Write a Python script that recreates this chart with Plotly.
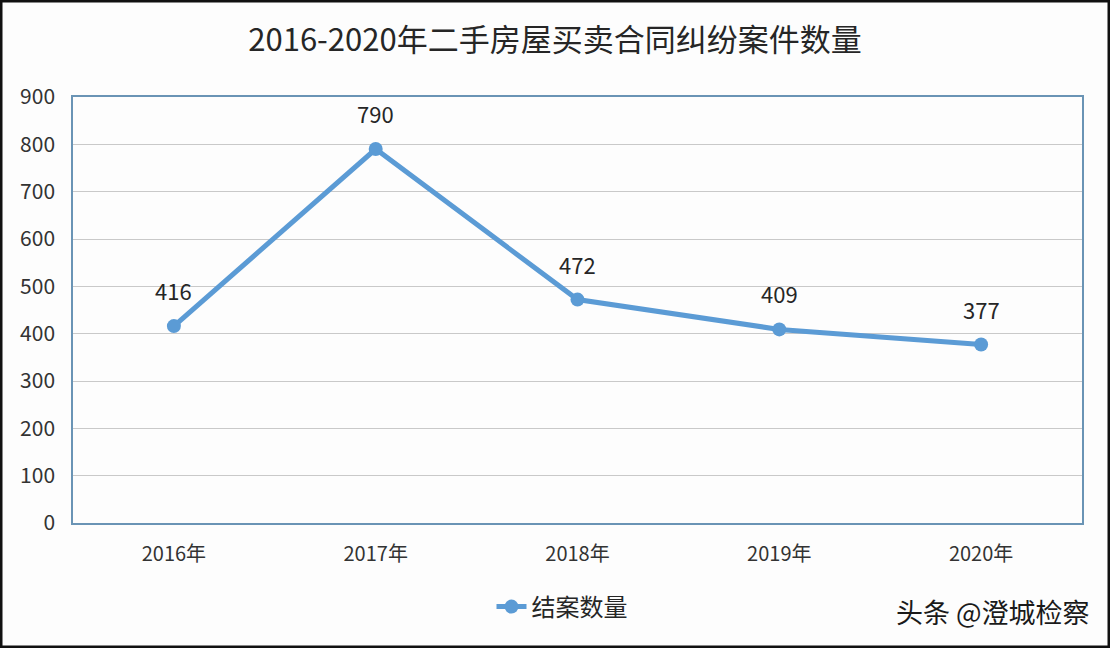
import plotly.graph_objects as go

years = ["2016年", "2017年", "2018年", "2019年", "2020年"]
cases = [416, 790, 472, 409, 377]
series_name = "结案数量"
title_text = "2016-2020年二手房屋买卖合同纠纷案件数量"
watermark = "头条 @澄城检察"
y_ticks = [0, 100, 200, 300, 400, 500, 600, 700, 800, 900]

FONT = "Noto Sans CJK SC, Noto Sans, sans-serif"
BLUE = "#5B9BD5"

W, H = 1110, 648
L, R, T, B = 73, 28, 97, 125
pw, ph = W - L - R, H - T - B

fig = go.Figure()
fig.add_trace(go.Scatter(
    x=years, y=cases, mode="lines+markers", name=series_name,
    line=dict(color=BLUE, width=5),
    marker=dict(color=BLUE, size=14),
))

for x, y in zip(years, cases):
    fig.add_annotation(x=x, y=y, text=str(y), showarrow=False, yshift=36,
                       font=dict(family=FONT, size=22, color="#262626"))

fig.add_annotation(xref="paper", yref="paper", x=(1092 - L) / pw, y=(H - B - 611) / ph,
                   xanchor="right", yanchor="middle", text=watermark, showarrow=False,
                   font=dict(family=FONT, size=27, color="#1a1a1a"))

# outer frame of the picture
fig.add_shape(type="rect", xref="paper", yref="paper",
              x0=-L / pw, x1=1 + R / pw, y0=-(B) / ph, y1=1 + T / ph,
              line=dict(color="#111111", width=5), layer="above")

fig.update_layout(
    width=W, height=H,
    margin=dict(l=L, r=R, t=T, b=B),
    paper_bgcolor="#FDFDFD", plot_bgcolor="#FDFDFD",
    title=dict(text=title_text, x=0.5, xanchor="center", xref="container",
               y=1 - 40 / H, yanchor="middle", yref="container",
               font=dict(family=FONT, size=31, color="#262626")),
    xaxis=dict(type="category", range=[-0.5, 4.5], showgrid=False,
               showline=True, linecolor="#6A94B5", linewidth=1.5, mirror=True,
               ticks="outside", ticklen=12, tickcolor="rgba(0,0,0,0)",
               tickfont=dict(family=FONT, size=20, color="#333333"),
               zeroline=False, fixedrange=True),
    yaxis=dict(range=[0, 900], tickvals=y_ticks, showgrid=True, gridcolor="#C9C9C9",
               gridwidth=1, showline=True, linecolor="#6A94B5", linewidth=1.5, mirror=True,
               ticks="outside", ticklen=12, tickcolor="rgba(0,0,0,0)",
               tickfont=dict(family=FONT, size=21, color="#333333"),
               zeroline=False, fixedrange=True),
    showlegend=True,
    legend=dict(orientation="h", x=(562 - L) / pw, xanchor="center",
                y=(H - B - 607) / ph, yanchor="middle",
                font=dict(family=FONT, size=24, color="#262626"),
                bgcolor="rgba(0,0,0,0)"),
)

fig.write_html("out.html")
